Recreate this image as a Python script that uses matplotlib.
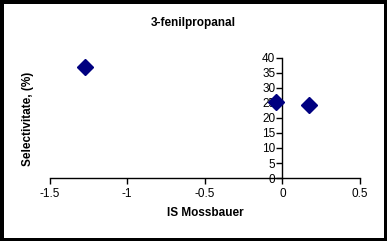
import matplotlib
matplotlib.use('Agg')
import matplotlib.pyplot as plt

# data
is_mossbauer = [-1.27, -0.04, 0.17]
selectivitate = [37.0, 25.1, 24.1]
x_ticks = [-1.5, -1, -0.5, 0, 0.5]
x_labels = ['-1.5', '-1', '-0.5', '0', '0.5']
y_ticks = [0, 5, 10, 15, 20, 25, 30, 35, 40]

plt.rcParams['font.family'] = ['Liberation Sans', 'DejaVu Sans']

fig = plt.figure(figsize=(3.87, 2.41), dpi=100, facecolor='white',
                 edgecolor='black', linewidth=5)
ax = fig.add_axes([0.128, 0.261, 0.802, 0.500])

ax.plot(is_mossbauer, selectivitate, linestyle='none', marker='D',
        markersize=8.5, color='#000080', markeredgecolor='#000080', clip_on=False, zorder=3)

ax.set_xlim(-1.5, 0.5)
ax.set_ylim(0, 40)

# y axis crosses at x = 0, like the Excel chart
ax.spines['left'].set_position(('data', 0))
ax.spines['right'].set_visible(False)
ax.spines['top'].set_visible(False)
for s in ['left', 'bottom']:
    ax.spines[s].set_linewidth(1)
    ax.spines[s].set_color('black')

ax.set_xticks(x_ticks)
ax.set_xticklabels(x_labels)
ax.set_yticks(y_ticks)
ax.tick_params(axis='both', direction='out', length=4, width=1, labelsize=8.5, pad=3)
ax.tick_params(axis='y', pad=1)

fig.text(0.5, 0.905, '3-fenilpropanal', ha='center', va='center', fontsize=8.5, fontweight='bold')
fig.text(0.073, 0.506, 'Selectivitate, (%)', ha='center', va='center', rotation=90,
         fontsize=8.5, fontweight='bold')
fig.text(0.53, 0.116, 'IS Mossbauer', ha='center', va='center', fontsize=8.5, fontweight='bold')

fig.savefig('out.png', dpi=100, facecolor='white', edgecolor='black')
